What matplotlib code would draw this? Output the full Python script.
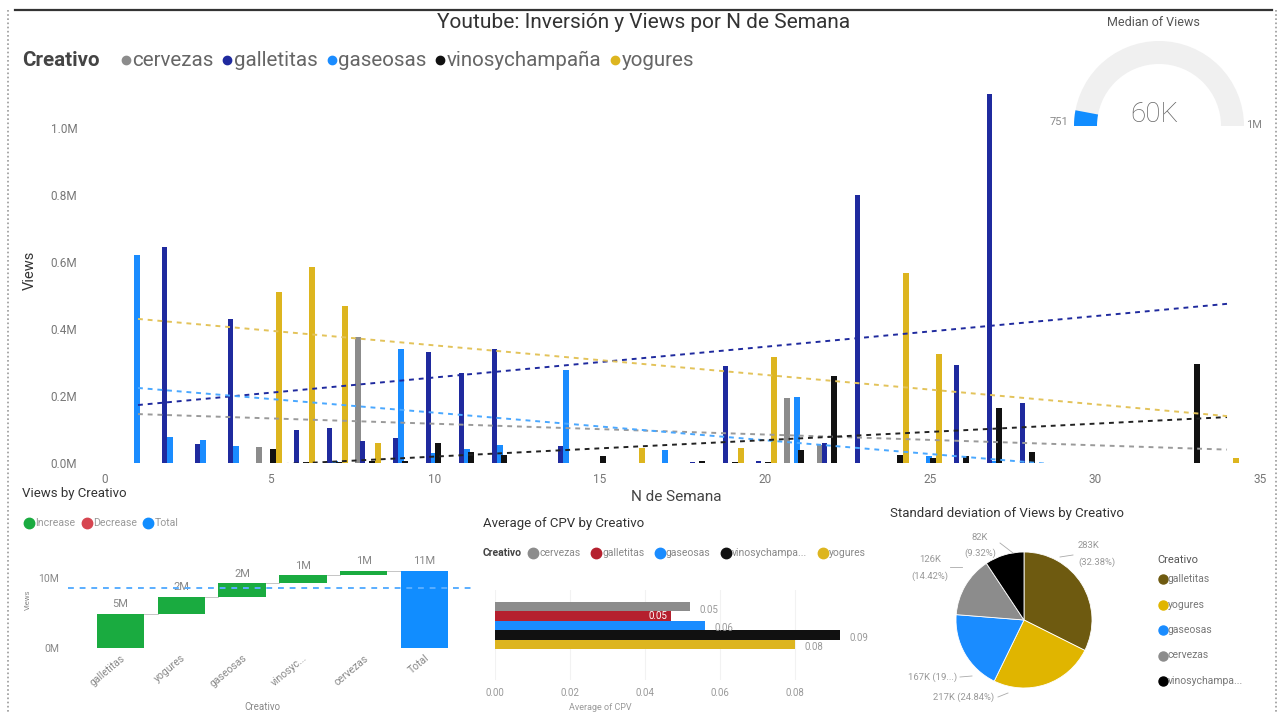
import matplotlib
matplotlib.use('Agg')
import matplotlib.pyplot as plt
from matplotlib.patches import Wedge
from matplotlib.lines import Line2D
import numpy as np

plt.rcParams['font.family'] = ['Roboto', 'DejaVu Sans']

W, H = 1288, 714

# ---------------------------------------------------------------- data
creativos = ['cervezas', 'galletitas', 'gaseosas', 'vinosychampaña', 'yogures']

# Views per N de Semana (millions)
cervezas_weeks = [5, 8, 21, 22]
cervezas_views = [0.048, 0.376, 0.194, 0.054]

galletitas_weeks = [2, 3, 4, 6, 7, 8, 9, 10, 11, 12, 14, 18, 19, 20, 22, 23, 26, 27, 28]
galletitas_views = [0.645, 0.057, 0.43, 0.098, 0.105, 0.065, 0.075, 0.33, 0.27, 0.34,
                    0.05, 0.004, 0.29, 0.005, 0.06, 0.80, 0.293, 1.10, 0.179]

gaseosas_weeks = [1, 2, 3, 4, 7, 9, 10, 11, 12, 14, 17, 21, 25, 27]
gaseosas_views = [0.62, 0.078, 0.069, 0.05, 0.006, 0.34, 0.03, 0.042, 0.053, 0.278,
                  0.04, 0.197, 0.02, 0.006]

vinos_weeks = [5, 6, 7, 8, 9, 10, 11, 12, 15, 18, 19, 20, 21, 22, 24, 25, 26, 27, 28, 33]
vinos_views = [0.042, 0.003, 0.004, 0.005, 0.005, 0.06, 0.033, 0.025, 0.02, 0.006,
               0.004, 0.004, 0.04, 0.26, 0.023, 0.015, 0.022, 0.164, 0.034, 0.296]

yogures_weeks = [5, 6, 7, 8, 16, 19, 20, 24, 25, 34]
yogures_views = [0.51, 0.585, 0.47, 0.06, 0.045, 0.045, 0.316, 0.567, 0.325, 0.015]

# trend lines, value at week 1 and at week 34 (millions)
trend_weeks = [1, 34]
trend_start = [0.146, 0.173, 0.224, -0.025, 0.43]
trend_end = [0.040, 0.475, -0.047, 0.137, 0.14]

# gauge
median_views = 60000
views_min = 751
views_max = 1000000

# waterfall (millions)
wf_cats = ['galletitas', 'yogures', 'gaseosas', 'vinosyc...', 'cervezas']
wf_views = [4.9, 2.45, 1.9, 1.1, 0.7]
wf_ref_line = 8.5

# CPV
cpv_values = [0.052, 0.047, 0.056, 0.092, 0.080]

# std deviation of views (thousands)
pie_cats = ['galletitas', 'yogures', 'gaseosas', 'cervezas', 'vinosychampa...']
pie_std = [283.4, 217.4, 166.6, 126.2, 81.6]

# ---------------------------------------------------------------- style
GRAY = '#8C8C8C'
NAVY = '#1F2A9E'
BLUE = '#1A8CFF'
BLACK = '#111111'
GOLD = '#DDB51F'
series_colors = [GRAY, NAVY, BLUE, BLACK, GOLD]
trend_colors = ['#9A9A9A', '#1F2A9E', '#4AA8FF', '#222222', '#E3C35A']
TXT = '#666666'


def px(x0, y0, x1, y1):
    """pixel box (top-left origin) -> figure rect"""
    return [x0 / W, 1 - y1 / H, (x1 - x0) / W, (y1 - y0) / H]


def ftext(x, y, s, **kw):
    return fig.text(x / W, 1 - y / H, s, **kw)


def inline_legend(x, y, labels, colors, title=None, size=9, msize=6,
                  title_gap=8, text_gap=3, item_gap=8, color=TXT):
    renderer = fig.canvas.get_renderer()
    cur = x
    if title:
        t = ftext(cur, y, title, fontsize=size, fontweight='bold', color='#444444', va='center')
        cur = t.get_window_extent(renderer).x1 + title_gap
    for lab, c in zip(labels, colors):
        fig.add_artist(Line2D([(cur + msize * 0.7) / W], [1 - y / H], marker='o', ls='none',
                              ms=msize, color=c, transform=fig.transFigure))
        cur += msize * 1.4 + text_gap
        t = ftext(cur, y, lab, fontsize=size, color=color, va='center')
        cur = t.get_window_extent(renderer).x1 + item_gap


fig = plt.figure(figsize=(W / 100, H / 100), dpi=100, facecolor='white')

# overlay for frame lines, gauge and pie annotations (pixel coordinates)
ov = fig.add_axes([0, 0, 1, 1], zorder=5)
ov.set_xlim(0, W)
ov.set_ylim(H, 0)
ov.axis('off')
ov.patch.set_alpha(0)

ov.plot([15, 1272], [10, 10], color='#333333', lw=1.6)
ov.plot([8, 8], [10, 714], color='#999999', lw=1.2, ls=(0, (1, 1.5)))
ov.plot([1276, 1276], [10, 714], color='#999999', lw=1.2, ls=(0, (1, 1.5)))

# ---------------------------------------------------------------- main chart
ax = fig.add_axes(px(105, 80, 1260, 463))
ax.patch.set_alpha(0)
week_lists = [cervezas_weeks, galletitas_weeks, gaseosas_weeks, vinos_weeks, yogures_weeks]
view_lists = [cervezas_views, galletitas_views, gaseosas_views, vinos_views, yogures_views]
offsets = [-0.33, -0.2, -0.03, 0.1, 0.27]
for wk, vw, off, c in zip(week_lists, view_lists, offsets, series_colors):
    ax.bar(np.array(wk) + off, vw, width=0.17, color=c, zorder=2)
for s, e, c in zip(trend_start, trend_end, trend_colors):
    ax.plot(trend_weeks, [s, e], color=c, lw=1.4, ls=(0, (2.5, 2.5)), zorder=3)

ax.set_xlim(0, 35)
ax.set_ylim(0, 1.143)
ax.set_xticks(range(0, 36, 5))
ax.set_yticks(np.arange(0, 1.01, 0.2))
ax.set_yticklabels([f'{v:.1f}M' for v in np.arange(0, 1.01, 0.2)])
ax.tick_params(length=0, labelsize=8.5, labelcolor='#777777')
ax.tick_params(axis='y', pad=20)
ax.tick_params(axis='x', pad=7)
for sp in ax.spines.values():
    sp.set_visible(False)

ftext(644, 23, 'Youtube: Inversión y Views por N de Semana', fontsize=15, color='#333333',
      ha='center', va='center')
ftext(30, 270, 'Views', fontsize=10.5, color='#333333', rotation=90, ha='center', va='center')
ftext(676, 497, 'N de Semana', fontsize=11, color='#444444', ha='center', va='center')
inline_legend(22, 60, creativos, series_colors, title='Creativo', size=14.8, msize=6,
              title_gap=22, text_gap=2, item_gap=10)

# ---------------------------------------------------------------- gauge
gx, gy, r_out, thick = 1159, 126, 85, 23
frac = (median_views - views_min) / (views_max - views_min)
ov.add_patch(Wedge((gx, gy), r_out, 180, 360, width=thick, facecolor='#F0F0F0', edgecolor='none'))
ov.add_patch(Wedge((gx, gy), r_out, 180, 180 + 180 * frac, width=thick,
                   facecolor='#118DFF', edgecolor='none'))
ov.text(1153, 23, 'Median of Views', fontsize=9, color='#555555', ha='center', va='center')
ov.text(1154, 115, f'{median_views / 1000:.0f}K', fontsize=20, color='#666666',
        ha='center', va='center', fontweight='light')
ov.text(1068, 122, f'{views_min}', fontsize=8, color='#888888', ha='right', va='center')
ov.text(1246, 125, f'{views_max / 1e6:.0f}M', fontsize=8, color='#888888', ha='left', va='center')

# ---------------------------------------------------------------- waterfall
wax = fig.add_axes(px(90, 545, 455, 648))
wax.patch.set_alpha(0)
bottoms = np.concatenate([[0], np.cumsum(wf_views)[:-1]])
total = sum(wf_views)
xs = np.arange(len(wf_cats) + 1)
wax.bar(xs[:-1], wf_views, bottom=bottoms, width=0.78, color='#1AAB40', zorder=2)
wax.bar(xs[-1], total, width=0.78, color='#118DFF', zorder=2)
tops = np.cumsum(wf_views)
for i, t in enumerate(tops):
    wax.plot([i + 0.39, i + 0.61], [t, t], color='#BBBBBB', lw=0.6, zorder=1)
for i, (b, v) in enumerate(zip(bottoms, wf_views)):
    wax.text(i, b + v + 0.6, f'{v:.0f}M', ha='center', va='bottom', fontsize=8, color='#888888')
wax.text(xs[-1], total + 0.6, f'{total:.0f}M', ha='center', va='bottom', fontsize=8, color='#888888')
wax.axhline(wf_ref_line, color='#5AAEFF', lw=1.4, ls=(0, (3, 3)), zorder=3,
            xmin=-0.06, xmax=1.05, clip_on=False)
wax.set_xlim(-0.5, 5.5)
wax.set_ylim(0, 14.7)
wax.set_yticks([0, 10])
wax.set_yticklabels(['0M', '10M'])
wax.set_xticks(xs)
wax.set_xticklabels(wf_cats + ['Total'], rotation=40, ha='right', rotation_mode='anchor')
wax.tick_params(length=0, labelsize=7.5, labelcolor='#888888')
wax.tick_params(axis='y', pad=22)
for sp in wax.spines.values():
    sp.set_visible(False)
ftext(22, 493, 'Views by Creativo', fontsize=9.5, color='#333333', va='center')
ftext(28, 600, 'Views', fontsize=5.5, color='#888888', rotation=90, ha='center', va='center')
ftext(262, 707, 'Creativo', fontsize=7, color='#888888', ha='center', va='center')
inline_legend(24, 523, ['Increase', 'Decrease', 'Total'], ['#1AAB40', '#D64550', '#118DFF'],
              size=7.6, msize=7.5, text_gap=1, item_gap=6, color='#999999')

# ---------------------------------------------------------------- CPV bars
cax = fig.add_axes(px(495, 590, 870, 680))
cax.patch.set_alpha(0)
cpv_colors = [GRAY, '#B5202E', BLUE, BLACK, GOLD]
ys = np.arange(len(creativos))
cax.barh(ys, cpv_values, height=1.0, color=cpv_colors, zorder=2)
for y, v, c in zip(ys, cpv_values, cpv_colors):
    if c == '#B5202E':
        cax.text(v - 0.001, y, f'{v:.2f}', ha='right', va='center', fontsize=7, color='white')
    else:
        cax.text(v + 0.0025, y + 0.3, f'{v:.2f}', ha='left', va='center', fontsize=7, color='#999999')
cax.set_xlim(0, 0.1)
cax.set_ylim(7.8, -1.78)
cax.set_xticks(np.arange(0, 0.081, 0.02))
cax.set_xticklabels([f'{v:.2f}' for v in np.arange(0, 0.081, 0.02)])
cax.set_yticks([])
cax.grid(axis='x', color='#F2F2F2', lw=0.8)
cax.set_axisbelow(True)
cax.tick_params(length=0, labelsize=7, labelcolor='#999999', pad=6)
for sp in cax.spines.values():
    sp.set_visible(False)
ftext(483, 524, 'Average of CPV by Creativo', fontsize=9.5, color='#333333', va='center')
ftext(600, 708, 'Average of CPV', fontsize=6.5, color='#999999', ha='center', va='center')
inline_legend(483, 553, ['cervezas', 'galletitas', 'gaseosas', 'vinosychampa...', 'yogures'],
              cpv_colors, title='Creativo', size=7.5, msize=7.5, title_gap=6, text_gap=1, item_gap=10,
              color='#888888')

# ---------------------------------------------------------------- pie
pcx, pcy, pr = 1024, 620, 68
pax = fig.add_axes(px(880, 530, 1150, 710))
pie_colors = ['#6E5A10', '#E0B500', '#1A8CFF', '#8C8C8C', '#000000']
pax.pie(pie_std, colors=pie_colors, startangle=90, counterclock=False,
        wedgeprops=dict(edgecolor='white', linewidth=0.6))
pax.set_aspect('auto')
pax.set_xlim((880 - pcx) / pr, (1150 - pcx) / pr)
pax.set_ylim((pcy - 710) / pr, (pcy - 530) / pr)
pax.axis('off')

pcts = np.array(pie_std) / sum(pie_std) * 100
# (text x, text y, alignment, leader line) in pixels
pie_label_layout = {
    'galletitas': (1078, 554, 'left', [(1060, 557), (1073, 555)]),
    'vinosychampa...': (980, 545, 'center', [(1000, 543), (1013, 553)]),
    'cervezas': (930, 568, 'center', [(950, 567), (962, 567)]),
}
for cat, v, p in zip(pie_cats, pie_std, pcts):
    if cat in pie_label_layout:
        tx, ty, ha, lead = pie_label_layout[cat]
        ov.text(tx, ty - 8, f'{v:.0f}K', fontsize=6.8, color='#999999', ha=ha, va='center')
        ov.text(tx, ty + 8, f'({p:.2f}%)', fontsize=6.8, color='#999999', ha=ha, va='center')
        ov.plot([q[0] for q in lead], [q[1] for q in lead], color='#AAAAAA', lw=0.6)
    elif cat == 'gaseosas':
        full = f'{v:.0f}K ({p:.2f}%)'
        ov.text(957, 677, full[:8] + '...)', fontsize=6.8, color='#999999', ha='right', va='center')
        ov.plot([960, 972], [677, 676], color='#AAAAAA', lw=0.6)
    else:
        ov.text(994, 697, f'{v:.0f}K ({p:.2f}%)', fontsize=6.8, color='#999999', ha='right', va='center')
        ov.plot([998, 1008], [697, 693], color='#AAAAAA', lw=0.6)

ftext(890, 514, 'Standard deviation of Views by Creativo', fontsize=9.5, color='#333333', va='center')
ftext(1157, 560, 'Creativo', fontsize=8, color='#555555', va='center')
for i, (cat, c) in enumerate(zip(pie_cats, pie_colors)):
    yy = 579 + i * 25.5
    fig.add_artist(Line2D([1163 / W], [1 - yy / H], marker='o', ls='none', ms=6.5, color=c,
                          transform=fig.transFigure))
    ftext(1168, yy, cat, fontsize=7.5, color='#777777', va='center')

fig.savefig('out.png', dpi=100, facecolor='white')
